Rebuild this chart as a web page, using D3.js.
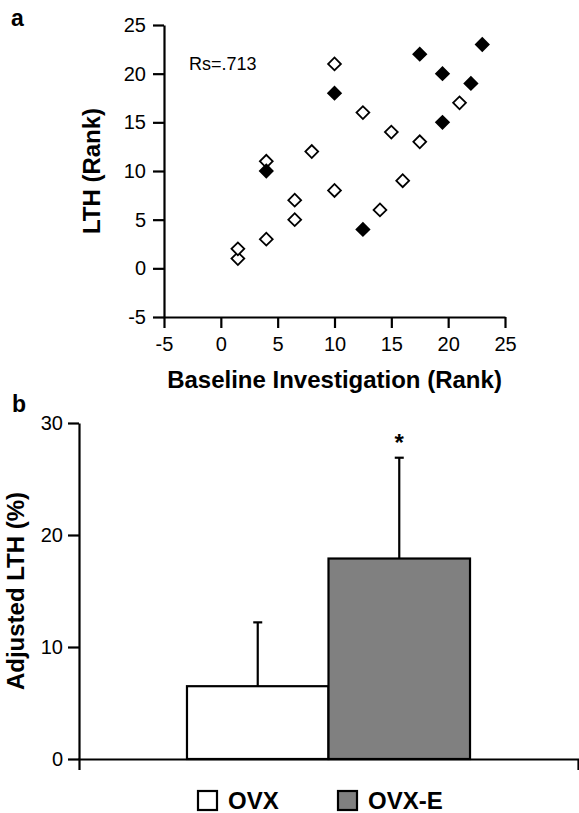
<!DOCTYPE html>
<html>
<head>
<meta charset="utf-8">
<script src="https://cdn.jsdelivr.net/npm/d3@7"></script>
<style>
  body { margin: 0; background: #fff; }
  svg text { font-family: "Liberation Sans", Arial, sans-serif; fill: #000; }
  .axis path, .axis line { stroke: #000; stroke-width: 2.2; }
  .axis text { font-size: 20px; }
  .axis-title { font-size: 24px; font-weight: bold; }
  .panel-label { font-size: 23px; font-weight: bold; }
</style>
</head>
<body>
<div id="chart"></div>
<script>
// Panel a: ranks
const ovxBaseline = [1.5, 1.5, 4, 4, 6.5, 6.5, 8, 10, 10, 12.5, 14, 15, 16, 17.5, 21];
const ovxLth      = [1, 2, 3, 11, 5, 7, 12, 8, 21, 16, 6, 14, 9, 13, 17];
const ovxeBaseline = [4, 10, 12.5, 17.5, 19.5, 19.5, 22, 23];
const ovxeLth      = [10, 18, 4, 22, 15, 20, 19, 23];
const rankTicks = [-5, 0, 5, 10, 15, 20, 25];

// Panel b: mean adjusted LTH with upper error bar
const groups = ['OVX', 'OVX-E'];
const meanLth = [6.5, 17.9];
const errorTop = [12.2, 26.9];
const groupFill = ['#ffffff', '#808080'];
const pctTicks = [0, 10, 20, 30];

// plain hyphen for negatives, like the original
const plain = d => String(d);

const svg = d3.select('#chart').append('svg')
  .attr('width', 579)
  .attr('height', 813);

// ---------- panel a: scatter ----------
const sc = { left: 164, top: 25, width: 341, height: 292 };

const xRank = d3.scaleLinear().domain([-5, 25]).range([0, sc.width]);
const yRank = d3.scaleLinear().domain([-5, 25]).range([sc.height, 0]);

const scatter = svg.append('g')
  .attr('transform', `translate(${sc.left},${sc.top})`);

scatter.append('g')
  .attr('class', 'axis')
  .attr('transform', `translate(0,${sc.height})`)
  .call(d3.axisBottom(xRank).tickValues(rankTicks).tickFormat(plain)
    .tickSize(11).tickSizeOuter(0).tickPadding(9))
  .attr('font-family', null).attr('font-size', null);

scatter.append('g')
  .attr('class', 'axis')
  .call(d3.axisLeft(yRank).tickValues(rankTicks).tickFormat(plain)
    .tickSize(11).tickSizeOuter(0).tickPadding(7))
  .attr('font-family', null).attr('font-size', null);

const diamond = d3.symbol().type(d3.symbolSquare).size(82);

const points = ovxBaseline.map((b, i) => ({ x: b, y: ovxLth[i], filled: false }))
  .concat(ovxeBaseline.map((b, i) => ({ x: b, y: ovxeLth[i], filled: true })));

scatter.selectAll('.pt')
  .data(points)
  .join('path')
  .attr('class', 'pt')
  .attr('d', diamond)
  .attr('transform', d => `translate(${xRank(d.x)},${yRank(d.y)}) rotate(45)`)
  .attr('fill', d => d.filled ? '#000' : '#fff')
  .attr('stroke', '#000')
  .attr('stroke-width', 1.8);

scatter.append('text')
  .attr('x', 25)
  .attr('y', 45)
  .attr('font-size', 18)
  .text('Rs=.713');

svg.append('text')
  .attr('class', 'axis-title')
  .attr('text-anchor', 'middle')
  .attr('x', sc.left + sc.width / 2)
  .attr('y', 388)
  .text('Baseline Investigation (Rank)');

svg.append('text')
  .attr('class', 'axis-title')
  .attr('text-anchor', 'middle')
  .attr('transform', `translate(100,${sc.top + sc.height / 2}) rotate(-90)`)
  .text('LTH (Rank)');

svg.append('text')
  .attr('class', 'panel-label')
  .attr('x', 11)
  .attr('y', 26)
  .text('a');

// ---------- panel b: bars ----------
const bc = { left: 79, top: 423, width: 499, height: 336 };

const xGroup = d3.scaleBand().domain(groups).range([0, bc.width])
  .paddingInner(0).paddingOuter(0.763);
const yPct = d3.scaleLinear().domain([0, 30]).range([bc.height, 0]);

const bars = svg.append('g')
  .attr('transform', `translate(${bc.left},${bc.top})`);

bars.selectAll('.bar')
  .data(groups)
  .join('rect')
  .attr('class', 'bar')
  .attr('x', d => xGroup(d))
  .attr('width', xGroup.bandwidth())
  .attr('y', (d, i) => yPct(meanLth[i]))
  .attr('height', (d, i) => yPct(0) - yPct(meanLth[i]))
  .attr('fill', (d, i) => groupFill[i])
  .attr('stroke', '#000')
  .attr('stroke-width', 2.2);

// error bars (upper only)
const errs = bars.selectAll('.err')
  .data(groups)
  .join('g')
  .attr('class', 'err')
  .attr('transform', d => `translate(${xGroup(d) + xGroup.bandwidth() / 2},0)`);

errs.append('line')
  .attr('y1', (d, i) => yPct(meanLth[i]))
  .attr('y2', (d, i) => yPct(errorTop[i]))
  .attr('stroke', '#000')
  .attr('stroke-width', 2.2);

errs.append('line')
  .attr('x1', -4.5).attr('x2', 4.5)
  .attr('y1', (d, i) => yPct(errorTop[i]))
  .attr('y2', (d, i) => yPct(errorTop[i]))
  .attr('stroke', '#000')
  .attr('stroke-width', 2.2);

// significance mark above OVX-E
bars.append('text')
  .attr('x', xGroup('OVX-E') + xGroup.bandwidth() / 2)
  .attr('y', yPct(errorTop[1]) - 7)
  .attr('text-anchor', 'middle')
  .attr('font-size', 24)
  .attr('font-weight', 'bold')
  .text('*');

bars.append('g')
  .attr('class', 'axis')
  .call(d3.axisLeft(yPct).tickValues(pctTicks).tickFormat(plain)
    .tickSize(11).tickSizeOuter(0).tickPadding(5))
  .attr('font-family', null).attr('font-size', null);

// x axis: plain line with end ticks only
bars.append('g')
  .attr('class', 'axis')
  .attr('transform', `translate(0,${bc.height})`)
  .call(d3.axisBottom(d3.scaleLinear().range([0, bc.width])).tickValues([]).tickSizeOuter(11));

svg.append('text')
  .attr('class', 'axis-title')
  .attr('text-anchor', 'middle')
  .attr('transform', `translate(24,${bc.top + bc.height / 2}) rotate(-90)`)
  .text('Adjusted LTH (%)');

svg.append('text')
  .attr('class', 'panel-label')
  .attr('x', 12)
  .attr('y', 412)
  .text('b');

// legend
const legendX = [198, 338];
const legend = svg.append('g')
  .selectAll('g')
  .data(groups)
  .join('g')
  .attr('transform', (d, i) => `translate(${legendX[i]},791)`);

legend.append('rect')
  .attr('width', 19)
  .attr('height', 19)
  .attr('fill', (d, i) => groupFill[i])
  .attr('stroke', '#000')
  .attr('stroke-width', 2.2);

legend.append('text')
  .attr('x', 30)
  .attr('y', 18)
  .attr('font-size', 24)
  .attr('font-weight', 'bold')
  .text(d => d);
</script>
</body>
</html>
